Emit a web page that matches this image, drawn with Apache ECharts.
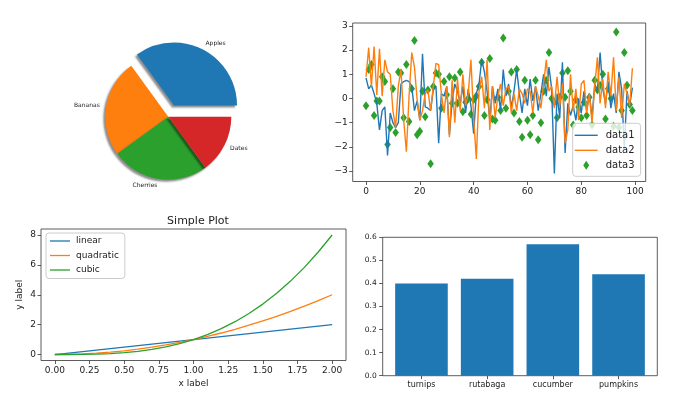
<!DOCTYPE html>
<html><head><meta charset="utf-8">
<script src="https://cdn.jsdelivr.net/npm/echarts@6/dist/echarts.min.js"></script>
<style>html,body{margin:0;padding:0;background:#fff}#c{width:680px;height:409px}</style>
</head><body><div id="c"></div>
<script>
// ---- Pie ----
const pieLabels = ['Apples', 'Bananas', 'Cherries', 'Dates'];
const pieValues = [35, 25, 25, 15];

// ---- Random series (top-right) ----
const data1 = [0.85, 0.4, 0.55, 0.2, -0.2, -1.3, -0.5, -0.35, -2.35, -0.6, -1.0, -1.2, -1.0, 0.6, 0.7, 0.75, 0.7, 0.5, -0.5, -0.1,
  -0.9, 1.85, -0.35, -0.4, -0.5, 0.35, 0.5, -1.85, 0.2, 0.1, 0.5, -1.5, -0.1, 0.6, 0.3, -0.2, 0.5, -0.6, 0.4, -0.3,
  -1.45, 0.2, 0.6, 1.6, 1.1, 0.3, -0.9, 0.5, -0.2, 0.4, -0.5, 1.2, 0.1, 0.6, -0.4, 0.3, 1.2, 0.2, -0.6, 0.4,
  -0.3, 0.8, -0.1, 0.5, -0.5, 0.2, 1.0, 0.1, 1.3, 0.4, -3.1, 0.2, -0.8, 1.5, -2.25, -0.2, -0.7, -0.3, -0.9, 0.0,
  -0.6, 0.3, -0.5, 0.2, -0.8, 0.6, 0.3, 1.9, 0.4, -0.2, 0.7, -0.4, 0.2, -0.6, 1.1, 0.4, -2.1, 0.3, -0.3, 0.45];
const data2 = [0.9, 2.1, 0.5, 2.15, 0.15, 2.05, 0.1, 1.6, 1.1, 1.0, -0.5, -1.2, 0.5, 1.2, -0.9, -2.2, 0.1, 1.9, 1.3, -0.05,
  -0.9, -0.5, 0.2, 0.35, -0.5, 0.5, 1.45, 1.4, 0.2, -0.6, 0.5, -1.6, 0.75, -1.0, 0.8, -0.5, 1.0, -0.3, 0.2, 1.6,
  -0.8, -2.5, 0.3, 0.9, -0.4, 1.6, -1.3, 0.5, -0.8, 0.1, 0.6, -0.3, 0.4, 0.5, -0.6, 0.2, -0.5, 0.4, 0.2, -0.2,
  0.4, 0.3, -0.6, 0.5, 0.1, -0.4, 0.6, 1.6, 0.3, 0.5, -0.4, 0.9, -0.3, 0.6, -1.85, -1.3, 1.0, -0.5, 0.4, -0.9,
  0.6, 0.75, -0.6, 0.2, -1.0, 0.5, 1.7, -0.2, 0.8, -0.4, 1.1, 0.1, 1.7, -0.5, 0.9, -0.8, 0.6, 0.2, -0.3, 1.25];
const data3 = [-0.3, 1.2, 1.4, -0.7, -0.1, -0.1, 0.9, 0.7, -1.9, -1.2, 0.4, -1.4, 1.1, 1.05, -0.8, 1.4, -0.95, 0.4, 2.4, -1.5,
  -1.35, 0.3, -0.75, 0.35, -2.7, 0.5, 1.05, 1.0, -0.4, 0.7, 0.15, 0.9, -0.2, 0.85, -0.2, 1.1, -0.55, -0.15, 0.0, -0.65,
  -0.05, 0.1, 0.5, 1.5, -0.7, -0.05, 1.65, -0.85, -0.9, 0.05, -0.5, 2.5, -0.4, 0.3, 1.1, -0.6, 1.2, -0.95, -1.6, 0.75,
  -0.9, -1.5, -0.7, 0.75, -1.7, -1.0, 0.3, 0.75, 1.9, 0.0, -0.15, -0.8, 0.05, 1.05, 0.05, 1.15, 0.3, -1.1, -0.05, -0.35,
  -0.8, -0.15, -0.7, 0.05, -1.1, 0.75, 0.35, 0.55, 1.0, -0.85, 0.4, 0.0, -1.15, 2.75, -1.2, -0.5, 1.9, 0.55, -0.25, -0.5];
const rtXTicks = [0, 20, 40, 60, 80, 100];
const rtYTicks = [-3, -2, -1, 0, 1, 2, 3];

// ---- Simple Plot (bottom-left) ----
const plotX = [0, 0.1, 0.2, 0.3, 0.4, 0.5, 0.6, 0.7, 0.8, 0.9, 1.0, 1.1, 1.2, 1.3, 1.4, 1.5, 1.6, 1.7, 1.8, 1.9, 2.0];
const linearY = [0, 0.1, 0.2, 0.3, 0.4, 0.5, 0.6, 0.7, 0.8, 0.9, 1.0, 1.1, 1.2, 1.3, 1.4, 1.5, 1.6, 1.7, 1.8, 1.9, 2.0];
const quadraticY = [0, 0.01, 0.04, 0.09, 0.16, 0.25, 0.36, 0.49, 0.64, 0.81, 1.0, 1.21, 1.44, 1.69, 1.96, 2.25, 2.56, 2.89, 3.24, 3.61, 4.0];
const cubicY = [0, 0.001, 0.008, 0.027, 0.064, 0.125, 0.216, 0.343, 0.512, 0.729, 1.0, 1.331, 1.728, 2.197, 2.744, 3.375, 4.096, 4.913, 5.832, 6.859, 8.0];
const blXTicks = [0, 0.25, 0.5, 0.75, 1.0, 1.25, 1.5, 1.75, 2.0];
const blYTicks = [0, 2, 4, 6, 8];

// ---- Bars (bottom-right) ----
const barCategories = ['turnips', 'rutabaga', 'cucumber', 'pumpkins'];
const barValues = [0.40, 0.42, 0.57, 0.44];

const FONT = 'DejaVu Sans';
const TXT = '#222';
const AX = '#333';
const C = ['#1f77b4', '#ff7f0e', '#2ca02c', '#d62728'];
const minus = v => String(v).replace('-', '\u2212');
const LINE_ICON_23 = 'path://M0,0 M23,9 M0,3.8 L23,3.8 L23,5.2 L0,5.2 Z';
const LINE_ICON_20 = 'path://M0,0 M20,9 M0,3.85 L20,3.85 L20,5.15 L0,5.15 Z';
const DIAMOND_ICON = 'path://M0,0 M23,9 M11.5,0 L14.5,4.5 L11.5,9 L8.5,4.5 Z';

function axis(extra, labelExtra, tickValues) {
  const a = Object.assign({
    axisLine: { show: false, onZero: false },
    splitLine: { show: false },
    axisTick: { show: true, inside: false, length: 3.5, lineStyle: { color: AX, width: 0.8 } },
    axisLabel: Object.assign({ color: TXT, fontFamily: FONT, fontSize: 9 }, labelExtra)
  }, extra);
  if (tickValues) {
    a.axisTick.customValues = tickValues;
    a.axisLabel.customValues = tickValues;
  }
  return a;
}

const chart = echarts.init(document.getElementById('c'), null, { renderer: 'canvas' });
const option = {
  animation: false,
  backgroundColor: '#fff',
  textStyle: { fontFamily: FONT },
  title: {
    text: 'Simple Plot', left: 193, top: 211, textAlign: 'center',
    textStyle: { fontSize: 11, fontWeight: 'normal', color: TXT, fontFamily: FONT }
  },
  grid: [
    { left: 352.7, top: 23, width: 293, height: 158.5, show: true, borderColor: AX, borderWidth: 0.8, backgroundColor: 'transparent' },
    { left: 41, top: 229, width: 305, height: 131.5, show: true, borderColor: AX, borderWidth: 0.8, backgroundColor: 'transparent' },
    { left: 382.7, top: 237.3, width: 274.6, height: 138.4, show: true, borderColor: AX, borderWidth: 0.8, backgroundColor: 'transparent' }
  ],
  xAxis: [
    axis({ type: 'value', gridIndex: 0, min: -4.95, max: 103.95 },
      { margin: 6, formatter: v => minus(v) }, rtXTicks),
    axis({ type: 'value', gridIndex: 1, min: -0.1, max: 2.1,
      name: 'x label', nameLocation: 'middle', nameGap: 19,
      nameTextStyle: { color: TXT, fontFamily: FONT, fontSize: 9, verticalAlign: 'top' } },
      { margin: 6, formatter: v => v.toFixed(2) }, blXTicks),
    axis({ type: 'value', gridIndex: 2, min: -0.59, max: 3.59 },
      { fontSize: 8, margin: 5, formatter: v => barCategories[Math.round(v)] || '' }, [0, 1, 2, 3])
  ],
  yAxis: [
    axis({ type: 'value', gridIndex: 0, min: -3.43, max: 3.12 },
      { margin: 5, formatter: v => minus(v) }, rtYTicks),
    axis({ type: 'value', gridIndex: 1, min: -0.4, max: 8.4,
      name: 'y label', nameLocation: 'middle', nameGap: 17, nameRotate: 90,
      nameTextStyle: { color: TXT, fontFamily: FONT, fontSize: 9 } },
      { margin: 5 }, blYTicks),
    axis({ type: 'value', gridIndex: 2, min: 0, max: 0.6, interval: 0.1 },
      { fontSize: 7.5, margin: 6, formatter: v => v.toFixed(1) })
  ],
  legend: [
    {
      data: [{ name: 'data1', icon: LINE_ICON_23 }, { name: 'data2', icon: LINE_ICON_23 }, { name: 'data3', icon: DIAMOND_ICON }],
      orient: 'vertical', left: 572.7, top: 123.3, itemWidth: 23, itemHeight: 9, itemGap: 5,
      padding: [7, 6, 6, 2], borderColor: '#ccc', borderWidth: 1, borderRadius: 3, backgroundColor: 'rgba(255,255,255,0.8)',
      selectedMode: false,
      textStyle: { fontSize: 10, color: TXT, fontFamily: FONT, padding: [0, 0, 0, 3] }
    },
    {
      data: [{ name: 'linear', icon: LINE_ICON_20 }, { name: 'quadratic', icon: LINE_ICON_20 }, { name: 'cubic', icon: LINE_ICON_20 }],
      orient: 'vertical', left: 46, top: 233, itemWidth: 20, itemHeight: 9, itemGap: 5.5,
      padding: [3.5, 6, 4, 4], borderColor: '#ccc', borderWidth: 1, borderRadius: 3, backgroundColor: 'rgba(255,255,255,0.8)',
      selectedMode: false,
      textStyle: { fontSize: 9, color: TXT, fontFamily: FONT, padding: [0, 0, 0, 1] }
    }
  ],
  series: [
    {
      type: 'pie', center: [168.3, 116.7], radius: 63, startAngle: 0, clockwise: false,
      selectedMode: 'single', selectedOffset: 12.6, avoidLabelOverlap: false,
      emphasis: { disabled: true },
      label: { show: true, position: 'outside', fontSize: 6, color: TXT, fontFamily: FONT, distanceToLabelLine: 0 },
      labelLine: { show: false, length: 6.3, length2: 0 },
      itemStyle: { shadowColor: 'rgba(0,0,0,0.45)', shadowBlur: 2, shadowOffsetX: -2, shadowOffsetY: 2 },
      data: pieLabels.map((n, i) => ({ name: n, value: pieValues[i], selected: i === 0, itemStyle: { color: C[i] } }))
    },
    {
      name: 'data1', type: 'line', xAxisIndex: 0, yAxisIndex: 0, symbol: 'none',
      lineStyle: { color: C[0], width: 1.4 }, itemStyle: { color: C[0] },
      data: data1.map((v, i) => [i, v])
    },
    {
      name: 'data2', type: 'line', xAxisIndex: 0, yAxisIndex: 0, symbol: 'none',
      lineStyle: { color: C[1], width: 1.4 }, itemStyle: { color: C[1] },
      data: data2.map((v, i) => [i, v])
    },
    {
      name: 'data3', type: 'scatter', xAxisIndex: 0, yAxisIndex: 0, symbol: 'diamond', symbolSize: [6.5, 9],
      itemStyle: { color: C[2], opacity: 1 },
      data: data3.map((v, i) => [i, v])
    },
    {
      name: 'linear', type: 'line', xAxisIndex: 1, yAxisIndex: 1, symbol: 'none',
      lineStyle: { color: C[0], width: 1.3 }, itemStyle: { color: C[0] }, data: plotX.map((x, i) => [x, linearY[i]])
    },
    {
      name: 'quadratic', type: 'line', xAxisIndex: 1, yAxisIndex: 1, symbol: 'none',
      lineStyle: { color: C[1], width: 1.3 }, itemStyle: { color: C[1] }, data: plotX.map((x, i) => [x, quadraticY[i]])
    },
    {
      name: 'cubic', type: 'line', xAxisIndex: 1, yAxisIndex: 1, symbol: 'none',
      lineStyle: { color: C[2], width: 1.3 }, itemStyle: { color: C[2] }, data: plotX.map((x, i) => [x, cubicY[i]])
    },
    {
      type: 'bar', xAxisIndex: 2, yAxisIndex: 2, barWidth: 52.6,
      itemStyle: { color: C[0] },
      data: barCategories.map((c, i) => [i, barValues[i]])
    }
  ]
};
chart.setOption(option);
</script>
</body></html>
